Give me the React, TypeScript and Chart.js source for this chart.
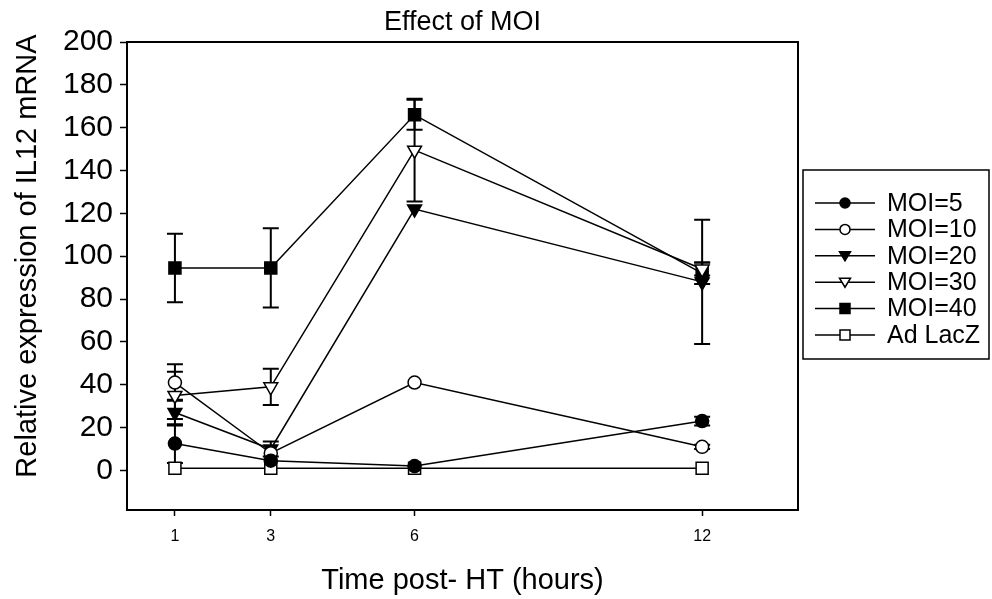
import React, { useEffect, useRef } from "react";
import { Chart, registerables } from "chart.js";

Chart.register(...registerables);

// Time points (hours after heat treatment)
const hours = [1, 3, 6, 12];

// Mean relative IL12 mRNA expression and error (± SE) per group
const moi5 = [12.5, 4.5, 2, 23];
const moi5Err = [9, 0, 0, 2];
const moi10 = [41, 8, 41, 11];
const moi10Err = [8.5, 0, 0, 1];
const moi20 = [27, 10, 122, 88];
const moi20Err = [6, 3.5, 0, 29];
const moi30 = [35, 39, 149.5, 94];
const moi30Err = [11, 8.5, 24, 3];
const moi40 = [94.5, 94.5, 166, 92];
const moi40Err = [16, 18.5, 7, 5];
const adLacZ = [1, 1, 1, 1];
const adLacZErr = [0, 0, 0, 0];

const seriesNames = ["MOI=5", "MOI=10", "MOI=20", "MOI=30", "MOI=40", "Ad LacZ"];
const seriesValues = [moi5, moi10, moi20, moi30, moi40, adLacZ];
const seriesErrors = [moi5Err, moi10Err, moi20Err, moi30Err, moi40Err, adLacZErr];
// marker shape and whether it is filled
const seriesMarkers: { shape: "circle" | "triangleDown" | "square"; filled: boolean }[] = [
  { shape: "circle", filled: true },
  { shape: "circle", filled: false },
  { shape: "triangleDown", filled: true },
  { shape: "triangleDown", filled: false },
  { shape: "square", filled: true },
  { shape: "square", filled: false },
];

const yTickValues = [0, 20, 40, 60, 80, 100, 120, 140, 160, 180, 200];

const FONT = '"Liberation Sans", Arial, Helvetica, sans-serif';

function markerStyle(shape: string) {
  if (shape === "circle") return { pointStyle: "circle", radius: 6.5, rotation: 0 };
  if (shape === "triangleDown") return { pointStyle: "triangle", radius: 8, rotation: 180 };
  return { pointStyle: "rect", radius: 8.5, rotation: 0 };
}

function drawLegendMarker(ctx: CanvasRenderingContext2D, shape: string, filled: boolean, x: number, y: number) {
  ctx.beginPath();
  if (shape === "circle") {
    ctx.arc(x, y, 5, 0, Math.PI * 2);
  } else if (shape === "triangleDown") {
    ctx.moveTo(x - 5.5, y - 4);
    ctx.lineTo(x + 5.5, y - 4);
    ctx.lineTo(x, y + 5);
    ctx.closePath();
  } else {
    ctx.rect(x - 5, y - 5, 10, 10);
  }
  ctx.fillStyle = filled ? "#000" : "#fff";
  ctx.fill();
  ctx.lineWidth = 1.5;
  ctx.strokeStyle = "#000";
  ctx.stroke();
}

const errorBarPlugin = {
  id: "errorBars",
  beforeDatasetsDraw(chart: any) {
    const { ctx, scales } = chart;
    const xs = scales.x;
    const ys = scales.y;
    ctx.save();
    ctx.strokeStyle = "#000";
    ctx.lineWidth = 2;
    seriesValues.forEach((vals, si) => {
      const errs = seriesErrors[si];
      vals.forEach((v, i) => {
        const e = errs[i];
        if (!e) return;
        const x = xs.getPixelForValue(hours[i]);
        const yTop = ys.getPixelForValue(v + e);
        const yBot = ys.getPixelForValue(v - e);
        ctx.beginPath();
        ctx.moveTo(x, yTop);
        ctx.lineTo(x, yBot);
        ctx.moveTo(x - 8, yTop);
        ctx.lineTo(x + 8, yTop);
        ctx.moveTo(x - 8, yBot);
        ctx.lineTo(x + 8, yBot);
        ctx.stroke();
      });
    });
    ctx.restore();
  },
};

const decorPlugin = {
  id: "decor",
  afterDraw(chart: any) {
    const { ctx, chartArea: a } = chart;
    ctx.save();
    // closing frame on top and right
    ctx.strokeStyle = "#000";
    ctx.lineWidth = 2;
    ctx.beginPath();
    ctx.moveTo(a.left, a.top);
    ctx.lineTo(a.right, a.top);
    ctx.lineTo(a.right, a.bottom);
    ctx.stroke();

    ctx.fillStyle = "#000";
    // chart title
    ctx.font = `27px ${FONT}`;
    ctx.textAlign = "center";
    ctx.textBaseline = "alphabetic";
    ctx.fillText("Effect of MOI", (a.left + a.right) / 2, 30);

    // x axis title
    ctx.font = `29px ${FONT}`;
    ctx.fillText("Time post- HT (hours)", (a.left + a.right) / 2, 589);

    // y axis title
    ctx.save();
    ctx.translate(28, 256);
    ctx.rotate(-Math.PI / 2);
    ctx.font = `29px ${FONT}`;
    ctx.textBaseline = "middle";
    ctx.fillText("Relative expression of IL12 mRNA", 0, 0);
    ctx.restore();

    // legend box
    const bx = 803, by = 170, bw = 186, bh = 189;
    ctx.lineWidth = 1.5;
    ctx.strokeRect(bx, by, bw, bh);
    ctx.font = `25px ${FONT}`;
    ctx.textAlign = "left";
    ctx.textBaseline = "middle";
    seriesNames.forEach((name, i) => {
      const y = 203 + i * 26.4;
      ctx.strokeStyle = "#000";
      ctx.lineWidth = 1.5;
      ctx.beginPath();
      ctx.moveTo(815, y);
      ctx.lineTo(875, y);
      ctx.stroke();
      drawLegendMarker(ctx, seriesMarkers[i].shape, seriesMarkers[i].filled, 845, y);
      ctx.fillStyle = "#000";
      ctx.fillText(name, 887, y + 1);
    });
    ctx.restore();
  },
};

export default function App() {
  const canvasRef = useRef<HTMLCanvasElement | null>(null);

  useEffect(() => {
    const canvas = canvasRef.current;
    if (!canvas) return;

    const datasets = seriesNames.map((name, si) => {
      const m = markerStyle(seriesMarkers[si].shape);
      return {
        label: name,
        data: hours.map((h, i) => ({ x: h, y: seriesValues[si][i] })),
        borderColor: "#000",
        borderWidth: 1.5,
        pointStyle: m.pointStyle,
        pointRadius: m.radius,
        pointRotation: m.rotation,
        pointBackgroundColor: seriesMarkers[si].filled ? "#000" : "#fff",
        pointBorderColor: "#000",
        pointBorderWidth: 1.5,
        fill: false,
        tension: 0,
      };
    });

    const chart = new Chart(canvas, {
      type: "line",
      data: { datasets } as any,
      options: {
        responsive: false,
        animation: false,
        devicePixelRatio: 1,
        layout: { padding: { top: 42, right: 194, left: 0, bottom: 0 } },
        plugins: {
          legend: { display: false },
          title: { display: false },
          tooltip: { enabled: false },
        },
        scales: {
          x: {
            type: "linear",
            min: 0,
            max: 14,
            afterBuildTicks: (scale: any) => {
              scale.ticks = hours.map((v) => ({ value: v }));
            },
            afterFit: (scale: any) => {
              scale.height = 89;
            },
            grid: {
              drawOnChartArea: false,
              drawTicks: true,
              tickLength: 6,
              tickColor: "#000",
              tickWidth: 1.5,
            },
            border: { display: true, color: "#000", width: 2 },
            ticks: {
              color: "#000",
              font: { family: FONT, size: 16 },
              padding: 11,
              maxRotation: 0,
              autoSkip: false,
            },
          },
          y: {
            type: "linear",
            min: -18.5,
            max: 200,
            afterBuildTicks: (scale: any) => {
              scale.ticks = yTickValues.map((v) => ({ value: v }));
            },
            afterFit: (scale: any) => {
              scale.width = 127;
            },
            grid: {
              drawOnChartArea: false,
              drawTicks: true,
              tickLength: 7,
              tickColor: "#000",
              tickWidth: 1.5,
            },
            border: { display: true, color: "#000", width: 2 },
            ticks: {
              color: "#000",
              font: { family: FONT, size: 30 },
              padding: 7,
              autoSkip: false,
            },
          },
        },
      } as any,
      plugins: [errorBarPlugin, decorPlugin],
    });

    return () => chart.destroy();
  }, []);

  return (
    <div style={{ position: "absolute", left: 0, top: 0, width: 992, height: 599, background: "#fff" }}>
      <canvas ref={canvasRef} width={992} height={599} style={{ display: "block" }} />
    </div>
  );
}
